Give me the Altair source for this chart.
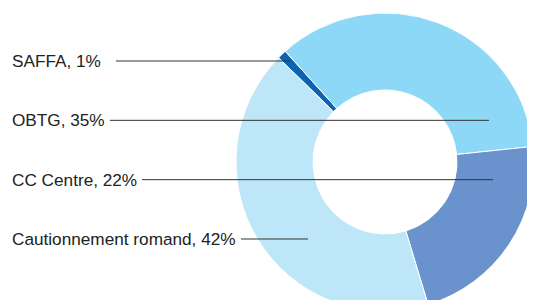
import math
import altair as alt
import pandas as pd

# Data
categories = ["SAFFA", "OBTG", "CC Centre", "Cautionnement romand"]
shares = [1, 35, 22, 42]
colors = ["#0b63b2", "#8ed8f7", "#6a92cc", "#bee6f9"]

# Layout of the annotation leaders (pixels in the chart)
leader_start = [108, 102, 134, 233]
leader_end = [282, 481, 485, 300]

W, H = 519, 292
start = math.radians(-45.6)

pie_df = pd.DataFrame({"category": categories, "value": shares, "order": list(range(len(categories)))})
lab_df = pd.DataFrame({
    "category": categories,
    "label": [f"{c}, {v}%" for c, v in zip(categories, shares)],
    "x1": leader_start,
    "x2": leader_end,
})

pie = alt.Chart(pie_df).mark_arc(stroke="white", strokeWidth=1).encode(
    theta=alt.Theta("value:Q", stack=True, scale=alt.Scale(range=[start, start + 2 * math.pi])),
    color=alt.Color("category:N", scale=alt.Scale(domain=categories, range=colors), legend=None),
    order=alt.Order("order:Q"),
    x=alt.value(377),
    y=alt.value(154),
    radius=alt.value(149),
    radius2=alt.value(72),
)

yscale = alt.Scale(type="point", domain=categories, range=[53, 231], padding=0)
xscale = alt.Scale(domain=[0, W], range=[0, W], nice=False, zero=False)

rules = alt.Chart(lab_df).mark_rule(color="#333333", strokeWidth=1).encode(
    x=alt.X("x1:Q", scale=xscale, axis=None),
    x2="x2:Q",
    y=alt.Y("category:N", scale=yscale, axis=None),
)

texts = alt.Chart(lab_df).mark_text(
    align="left", baseline="middle", font="Liberation Sans", fontSize=17.2, color="#222222", dy=1
).encode(
    x=alt.value(4),
    y=alt.Y("category:N", scale=yscale, axis=None),
    text="label:N",
)

chart = alt.layer(pie, rules, texts).properties(
    width=W, height=H, padding=0, autosize=alt.AutoSizeParams(type="none")
).configure_view(stroke=None)

chart.save("out.html", embed_options={"renderer": "svg", "actions": False})
